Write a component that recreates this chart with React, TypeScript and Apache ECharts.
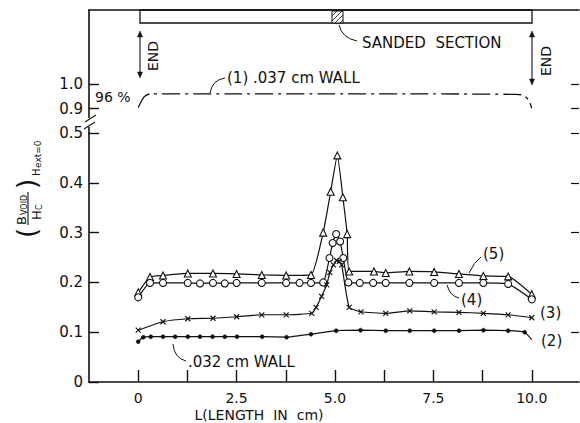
import React, { useEffect, useRef } from "react";
import * as echarts from "echarts";

// ---- tick values ----
const xTickValues = [0, 1.25, 2.5, 3.75, 5, 6.25, 7.5, 8.75, 10];
const xLabelValues = [0, 2.5, 5, 7.5, 10];
const yLowerTicks = [0, 0.1, 0.2, 0.3, 0.4, 0.5];
const yUpperTicks = [0.9, 1.0];

// ---- (1) .037 cm wall (upper panel) ----
const s1X = [0, 0.15, 0.3, 2.5, 5, 7.5, 9.6, 9.78, 9.92, 10.0];
const s1Y = [0.905, 0.948, 0.96, 0.96, 0.96, 0.96, 0.958, 0.955, 0.935, 0.902];

// ---- (5) triangles ----
const s5X = [0, 0.3, 0.63, 1.26, 1.9, 2.5, 3.14, 3.76, 4.39, 4.7, 4.89, 5.06, 5.2, 5.31, 5.36, 5.99, 6.29, 6.89, 7.52, 8.15, 8.77, 9.4, 10.0];
const s5Y = [0.18, 0.211, 0.214, 0.218, 0.218, 0.217, 0.215, 0.214, 0.215, 0.3, 0.382, 0.455, 0.371, 0.297, 0.222, 0.222, 0.219, 0.222, 0.221, 0.217, 0.213, 0.212, 0.176];

// ---- (4) circles ----
const s4X = [0, 0.3, 0.63, 1.26, 1.57, 1.9, 2.2, 2.5, 3.14, 3.76, 4.1, 4.39, 4.7, 4.86, 4.94, 5.03, 5.13, 5.21, 5.34, 5.63, 5.97, 6.29, 6.89, 7.52, 8.15, 8.77, 9.4, 10.0];
const s4Y = [0.17, 0.199, 0.199, 0.199, 0.198, 0.199, 0.198, 0.199, 0.199, 0.199, 0.199, 0.199, 0.2, 0.249, 0.279, 0.297, 0.282, 0.249, 0.2, 0.199, 0.199, 0.199, 0.199, 0.199, 0.199, 0.199, 0.197, 0.166];

// ---- (3) crosses ----
const s3X = [0, 0.63, 1.26, 1.9, 2.5, 3.14, 3.76, 4.41, 4.52, 4.66, 4.79, 4.87, 4.96, 5.04, 5.11, 5.17, 5.36, 5.66, 6.29, 6.9, 7.52, 8.15, 8.77, 9.4, 10.0];
const s3Y = [0.104, 0.121, 0.127, 0.128, 0.131, 0.135, 0.135, 0.138, 0.15, 0.172, 0.195, 0.22, 0.235, 0.244, 0.242, 0.235, 0.15, 0.141, 0.138, 0.143, 0.141, 0.14, 0.138, 0.135, 0.129];

// ---- (2) dots, .032 cm wall ----
const s2X = [0, 0.13, 0.32, 0.63, 0.94, 1.26, 1.57, 1.89, 2.2, 2.51, 3.15, 3.77, 4.39, 5.03, 5.65, 6.29, 6.9, 7.52, 8.15, 8.77, 9.4, 9.82, 10.0];
const s2Y = [0.081, 0.09, 0.091, 0.091, 0.091, 0.091, 0.091, 0.091, 0.091, 0.091, 0.091, 0.09, 0.096, 0.103, 0.104, 0.103, 0.103, 0.103, 0.103, 0.104, 0.103, 0.1, 0.085];

const FONT = "DejaVu Sans";
const INK = "#111";

const pairs = (xs: number[], ys: number[]) => xs.map((x, i) => [x, ys[i]]);

const fmt = (v: number) => (v === 0 ? "0" : Number(v).toFixed(1));

export default function App() {
  const ref = useRef<HTMLDivElement>(null);

  useEffect(() => {
    if (!ref.current) return;
    const chart = echarts.init(ref.current, null, { renderer: "svg" });

    const lineBase = {
      type: "line",
      lineStyle: { color: INK, width: 1.2 },
      itemStyle: { color: "#fff", borderColor: INK, borderWidth: 1.1 },
      smooth: 0.15,
      z: 3,
    };

    const s2Data = pairs(s2X, s2Y).map((p, i) =>
      i === s2X.length - 1 ? { value: p, symbol: "none" } : p
    );

    const txt = (text: string, x: number, y: number, size = 13, align = "left", extra: any = {}) => ({
      type: "text",
      x,
      y,
      z: 100,
      style: {
        text,
        font: `${size}px ${FONT}`,
        fill: INK,
        textAlign: align,
        textVerticalAlign: "middle",
      },
      ...extra,
    });

    const ln = (x1: number, y1: number, x2: number, y2: number, w = 1.2) => ({
      type: "line",
      z: 100,
      shape: { x1, y1, x2, y2 },
      style: { stroke: INK, lineWidth: w },
    });

    const bez = (x1: number, y1: number, cx: number, cy: number, x2: number, y2: number) => ({
      type: "bezierCurve",
      z: 100,
      shape: { x1, y1, cpx1: cx, cpy1: cy, x2, y2 },
      style: { stroke: INK, lineWidth: 1, fill: "none" },
    });

    const head = (pts: number[][]) => ({
      type: "polygon",
      z: 100,
      shape: { points: pts },
      style: { fill: INK, stroke: INK, lineWidth: 0.5 },
    });

    const axisLineStyle = { show: true, onZero: false, lineStyle: { color: INK, width: 1.6 } };

    const option: any = {
      animation: false,
      backgroundColor: "#fff",
      grid: [
        { left: 89, top: 133, width: 490, height: 249 },
        { left: 89, top: 10, width: 490, height: 123.4 },
      ],
      xAxis: [
        {
          type: "value",
          gridIndex: 0,
          min: -1.25,
          max: 11.2,
          axisLine: axisLineStyle,
          axisTick: {
            show: true,
            inside: true,
            length: 12,
            customValues: xTickValues,
            lineStyle: { color: INK, width: 1.4 },
          },
          axisLabel: {
            customValues: xLabelValues,
            formatter: fmt,
            color: INK,
            fontFamily: FONT,
            fontSize: 14,
            margin: 9,
          },
          splitLine: { show: false },
        },
        {
          type: "value",
          gridIndex: 1,
          position: "top",
          min: -1.25,
          max: 11.2,
          axisLine: axisLineStyle,
          axisTick: { show: false },
          axisLabel: { show: false },
          splitLine: { show: false },
        },
      ],
      yAxis: [
        {
          type: "value",
          gridIndex: 0,
          min: 0,
          max: 0.5,
          axisLine: axisLineStyle,
          axisTick: {
            show: true,
            inside: true,
            length: 10,
            customValues: yLowerTicks,
            lineStyle: { color: INK, width: 1.4 },
          },
          axisLabel: {
            customValues: yLowerTicks,
            formatter: fmt,
            color: INK,
            fontFamily: FONT,
            fontSize: 15,
            margin: 6,
          },
          splitLine: { show: false },
        },
        {
          type: "value",
          gridIndex: 1,
          min: 0.8,
          max: 1.3,
          axisLine: axisLineStyle,
          axisTick: {
            show: true,
            inside: true,
            length: 10,
            customValues: yUpperTicks,
            lineStyle: { color: INK, width: 1.4 },
          },
          axisLabel: {
            customValues: yUpperTicks,
            formatter: fmt,
            color: INK,
            fontFamily: FONT,
            fontSize: 15,
            margin: 6,
          },
          splitLine: { show: false },
        },
        {
          type: "value",
          gridIndex: 0,
          position: "right",
          min: 0,
          max: 0.5,
          axisLine: { show: false, onZero: false },
          axisTick: {
            show: true,
            inside: true,
            length: 8,
            customValues: yLowerTicks.slice(1),
            lineStyle: { color: INK, width: 1.2 },
          },
          axisLabel: { show: false },
          splitLine: { show: false },
        },
        {
          type: "value",
          gridIndex: 1,
          position: "right",
          min: 0.8,
          max: 1.3,
          axisLine: { show: false, onZero: false },
          axisTick: {
            show: true,
            inside: true,
            length: 8,
            customValues: yUpperTicks,
            lineStyle: { color: INK, width: 1.2 },
          },
          axisLabel: { show: false },
          splitLine: { show: false },
        },
      ],
      series: [
        {
          ...lineBase,
          name: "(1) .037 cm WALL",
          xAxisIndex: 1,
          yAxisIndex: 1,
          symbol: "none",
          smooth: 0.2,
          lineStyle: { color: INK, width: 1.3, type: [18, 5, 3, 5] },
          data: pairs(s1X, s1Y),
        },
        {
          ...lineBase,
          name: "(5)",
          xAxisIndex: 0,
          yAxisIndex: 0,
          symbol: "triangle",
          symbolSize: 7,
          data: pairs(s5X, s5Y),
        },
        {
          ...lineBase,
          name: "(4)",
          xAxisIndex: 0,
          yAxisIndex: 0,
          symbol: "circle",
          symbolSize: 7,
          data: pairs(s4X, s4Y),
        },
        {
          ...lineBase,
          name: "(3)",
          xAxisIndex: 0,
          yAxisIndex: 0,
          symbol: "path://M0,0L10,10M10,0L0,10",
          symbolSize: 5,
          itemStyle: { color: "none", borderColor: INK, borderWidth: 1.1 },
          data: pairs(s3X, s3Y),
        },
        {
          ...lineBase,
          name: "(2)",
          xAxisIndex: 0,
          yAxisIndex: 0,
          symbol: "circle",
          symbolSize: 4,
          itemStyle: { color: INK, borderColor: INK, borderWidth: 0.5 },
          data: s2Data,
        },
      ],
      graphic: [
        // sample tube with sanded section
        {
          type: "rect",
          z: 100,
          shape: { x: 140, y: 10, width: 392, height: 13 },
          style: { fill: "none", stroke: INK, lineWidth: 1.3 },
        },
        {
          type: "rect",
          z: 100,
          shape: { x: 332, y: 11, width: 11, height: 12 },
          style: { fill: "#fff", stroke: INK, lineWidth: 1 },
        },
        ln(332, 16, 337, 11, 0.8),
        ln(332, 21, 342, 11, 0.8),
        ln(335, 23, 343, 15, 0.8),
        ln(340, 23, 343, 20, 0.8),
        bez(339, 25, 342, 38, 357, 41),
        txt("SANDED  SECTION", 362, 43, 15),
        // END markers
        ln(140, 34, 140, 75, 1.1),
        head([[140, 31], [137.5, 37], [142.5, 37]]),
        head([[140, 78], [137.5, 72], [142.5, 72]]),
        txt("END", 153, 56, 14, "center", { rotation: Math.PI / 2 }),
        ln(532, 34, 532, 82, 1.1),
        head([[532, 31], [529.5, 37], [534.5, 37]]),
        head([[532, 85], [529.5, 79], [534.5, 79]]),
        txt("END", 546, 61, 14, "center", { rotation: Math.PI / 2 }),
        // curve (1) annotations
        bez(210, 93, 212, 80, 225, 78),
        txt("(1) .037 cm WALL", 227, 78, 15),
        txt("96 %", 95, 97, 14),
        // axis break
        {
          type: "rect",
          z: 99,
          shape: { x: 84, y: 118, width: 12, height: 9 },
          style: { fill: "#fff", stroke: "none" },
        },
        ln(85, 122, 96, 115, 1.1),
        ln(84, 129, 95, 122, 1.1),
        // curve labels
        bez(469, 273, 474, 262, 481, 257),
        txt("(5)", 483, 254, 15),
        bez(447, 285, 450, 296, 459, 298),
        txt("(4)", 461, 300, 15),
        txt("(3)", 540, 313, 15),
        txt("(2)", 541, 341, 15),
        bez(173, 344, 174, 358, 186, 361),
        txt(".032 cm WALL", 188, 362, 15),
        // x-axis title
        txt("L(LENGTH  IN  cm)", 259, 415, 14, "center"),
        // y-axis title (rotated group)
        {
          type: "group",
          x: 28,
          y: 240,
          rotation: Math.PI / 2,
          z: 100,
          children: [
            txt("(", 2, -1, 26),
            txt("B", 15, -7, 13),
            txt("VOID", 25, -4, 8),
            ln(15, 0, 48, 0, 1.1),
            txt("H", 20, 8, 13),
            txt("C", 30, 11, 8),
            txt(")", 51, -1, 26),
            txt("H", 64, 8, 10),
            txt("ext=0", 72, 10, 9),
          ],
        },
      ],
    };

    chart.setOption(option);
    return () => chart.dispose();
  }, []);

  return (
    <div
      ref={ref}
      style={{ position: "absolute", left: 0, top: 0, width: 580, height: 423, background: "#fff" }}
    />
  );
}
